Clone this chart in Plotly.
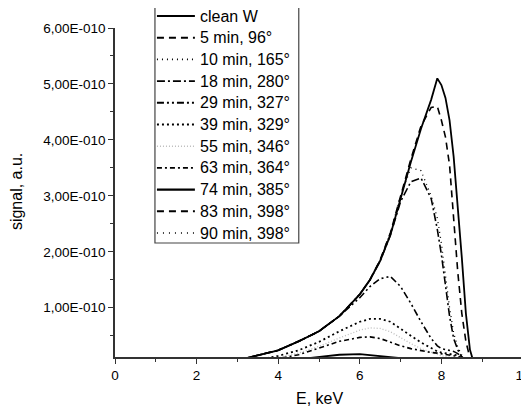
import plotly.graph_objects as go

SCALE = 1e-10

energy = [2.5, 3.0, 3.5, 4.0, 4.5, 5.0, 5.5, 6.0, 6.25, 6.5, 6.75, 7.0, 7.25, 7.5,
          7.75, 7.9, 8.0, 8.1, 8.2, 8.3, 8.4, 8.5, 8.6, 8.7, 8.8, 9.0]

s_clean = [0, 0.06, 0.15, 0.24, 0.40, 0.58, 0.85, 1.24, 1.50, 1.84, 2.30, 2.95, 3.60, 4.20,
           4.72, 5.10, 4.98, 4.75, 4.35, 3.70, 2.85, 1.90, 0.90, 0.25, 0, 0]
s_5 = [0, 0.06, 0.15, 0.24, 0.40, 0.58, 0.85, 1.24, 1.50, 1.86, 2.34, 3.00, 3.65, 4.25,
       4.58, 4.60, 4.35, 4.05, 3.55, 2.60, 1.65, 0.90, 0.40, 0.10, 0, 0]
s_10 = [0, 0.06, 0.15, 0.24, 0.40, 0.58, 0.85, 1.24, 1.50, 1.86, 2.34, 3.00, 3.50, 3.45,
        3.00, 2.60, 2.15, 1.55, 1.00, 0.55, 0.30, 0.15, 0.07, 0.02, 0, 0]
s_18 = [0, 0.06, 0.15, 0.24, 0.40, 0.58, 0.85, 1.24, 1.50, 1.84, 2.30, 2.90, 3.25, 3.32,
        2.95, 2.40, 1.95, 1.35, 0.85, 0.45, 0.25, 0.12, 0.05, 0, 0, 0]
s_29 = [0, 0.06, 0.15, 0.24, 0.40, 0.58, 0.85, 1.18, 1.38, 1.52, 1.56, 1.38, 1.08, 0.75,
        0.45, 0.32, 0.27, 0.25, 0.24, 0.22, 0.18, 0.12, 0.06, 0.01, 0, 0]
s_39 = [0, 0.02, 0.07, 0.14, 0.24, 0.39, 0.58, 0.75, 0.80, 0.80, 0.75, 0.62, 0.50, 0.38,
        0.28, 0.22, 0.20, 0.19, 0.18, 0.17, 0.15, 0.10, 0.05, 0.01, 0, 0]
s_55 = [0, 0.01, 0.05, 0.11, 0.19, 0.31, 0.46, 0.60, 0.64, 0.63, 0.57, 0.46, 0.36, 0.27,
        0.20, 0.16, 0.14, 0.13, 0.12, 0.11, 0.10, 0.07, 0.04, 0.01, 0, 0]
s_63 = [0, 0.01, 0.04, 0.09, 0.16, 0.28, 0.40, 0.47, 0.48, 0.45, 0.38, 0.32, 0.27, 0.23,
        0.20, 0.19, 0.18, 0.17, 0.16, 0.15, 0.13, 0.09, 0.05, 0.01, 0, 0]
s_74 = [0, 0, 0.01, 0.04, 0.08, 0.13, 0.16, 0.17, 0.15, 0.13, 0.11, 0.10, 0.09, 0.08,
        0.07, 0.07, 0.06, 0.06, 0.05, 0.05, 0.04, 0.03, 0.02, 0, 0, 0]
s_83 = [0, 0, 0.01, 0.02, 0.04, 0.06, 0.08, 0.09, 0.09, 0.08, 0.07, 0.06, 0.05, 0.05,
        0.04, 0.04, 0.04, 0.03, 0.03, 0.03, 0.02, 0.02, 0.01, 0, 0, 0]
s_90 = [0, 0, 0.01, 0.02, 0.03, 0.04, 0.06, 0.07, 0.07, 0.06, 0.05, 0.05, 0.04, 0.04,
        0.03, 0.03, 0.03, 0.03, 0.02, 0.02, 0.02, 0.01, 0.01, 0, 0, 0]

series_names = ["clean W", "5 min, 96°", "10 min, 165°", "18 min, 280°", "29 min, 327°",
                "39 min, 329°", "55 min, 346°", "63 min, 364°", "74 min, 385°",
                "83 min, 398°", "90 min, 398°"]
series_values = [s_clean, s_5, s_10, s_18, s_29, s_39, s_55, s_63, s_74, s_83, s_90]

styles = [
    dict(dash="solid", color="black", width=1.8),
    dict(dash="7px,5px", color="black", width=1.6),
    dict(dash="1px,4px", color="black", width=1.3),
    dict(dash="8px,3px,2px,3px", color="black", width=1.6),
    dict(dash="7px,3px,2px,3px,2px,3px", color="black", width=1.6),
    dict(dash="2px,3px", color="black", width=1.8),
    dict(dash="1px,2px", color="#bdbdbd", width=1.3),
    dict(dash="5px,3px,2px,3px", color="black", width=1.6),
    dict(dash="solid", color="black", width=1.8),
    dict(dash="7px,5px", color="black", width=1.6),
    dict(dash="1px,5px", color="black", width=1.3),
]

y_tick_vals = [1, 2, 3, 4, 5, 6]
y_tick_text = ["1,00E-010", "2,00E-010", "3,00E-010", "4,00E-010", "5,00E-010", "6,00E-010"]
x_tick_vals = [0, 2, 4, 6, 8, 10]

# the page body adds an 8px offset; the figure is sized so it fills the 529x410 window
OFF = 8
W, H = 529 - OFF, 410 - OFF
ML, MT = 115 - OFF, 28 - OFF
MR = W - (523.5 - OFF)
MB = H - (357 - OFF)
PW, PH = W - ML - MR, H - MT - MB


def px(xw):
    """window pixel x -> paper coordinate"""
    return (xw - OFF - ML) / PW


def py(yw):
    """window pixel y -> paper coordinate"""
    return (H - MB - (yw - OFF)) / PH


fig = go.Figure()
for name, vals, st in zip(series_names, series_values, styles):
    fig.add_trace(go.Scatter(
        x=energy, y=[v * SCALE for v in vals], mode="lines", name=name,
        line=dict(color=st["color"], width=st["width"], dash=st["dash"]),
        showlegend=False,
    ))

font_family = "Arial, Liberation Sans, sans-serif"

# hand-built legend box (to match the original's compact row spacing)
shapes = [dict(type="rect", xref="paper", yref="paper",
               x0=px(155), x1=px(299), y0=py(243), y1=py(6),
               line=dict(color="#444", width=1.2), fillcolor="white", layer="above")]
annotations = []
row0, row_gap = 16, 21.7
for i, (name, st) in enumerate(zip(series_names, styles)):
    yc = row0 + i * row_gap
    shapes.append(dict(type="line", xref="paper", yref="paper",
                       x0=px(157), x1=px(195), y0=py(yc), y1=py(yc), layer="above",
                       line=dict(color=st["color"], width=st["width"] + 0.3, dash=st["dash"])))
    annotations.append(dict(xref="paper", yref="paper", x=px(198), y=py(yc),
                            xanchor="left", yanchor="middle", showarrow=False,
                            text=name, font=dict(size=16, family=font_family, color="black")))

annotations.append(dict(xref="paper", yref="paper", x=0.5, y=py(398),
                        xanchor="center", yanchor="middle", showarrow=False,
                        text="E, keV", font=dict(size=16, family=font_family, color="black")))
annotations.append(dict(xref="paper", yref="paper", x=px(16), y=py(192),
                        xanchor="center", yanchor="middle", showarrow=False, textangle=-90,
                        text="signal, a.u.", font=dict(size=16, family=font_family, color="black")))

fig.update_layout(
    width=W, height=H,
    margin=dict(l=ML, r=MR, t=MT, b=MB, autoexpand=False),
    paper_bgcolor="white", plot_bgcolor="white",
    font=dict(family=font_family, color="black", size=13.5),
    showlegend=False,
    shapes=shapes, annotations=annotations,
    xaxis=dict(
        range=[0, 10], tickvals=x_tick_vals, ticks="outside", ticklen=5, tickwidth=1,
        tickcolor="#333", showline=True, linecolor="#333", linewidth=1.5, mirror=False,
        showgrid=False, zeroline=False, tickfont=dict(size=13.5), automargin=False,
        ticklabeloverflow="allow",
        minor=dict(tickvals=[1, 3, 5, 7, 9], ticks="outside", ticklen=3, tickcolor="#333"),
    ),
    yaxis=dict(
        range=[0.12 * SCALE, 6.0 * SCALE],
        tickvals=[v * SCALE for v in y_tick_vals], ticktext=y_tick_text,
        ticks="outside", ticklen=5, tickwidth=1, tickcolor="#333",
        showline=True, linecolor="#333", linewidth=1.5, mirror=False,
        showgrid=False, zeroline=False, tickfont=dict(size=13.5), automargin=False,
        minor=dict(tickvals=[v * SCALE for v in [0.5, 1.5, 2.5, 3.5, 4.5, 5.5]],
                   ticks="outside", ticklen=3, tickcolor="#333"),
    ),
)

fig.write_html("out.html")
